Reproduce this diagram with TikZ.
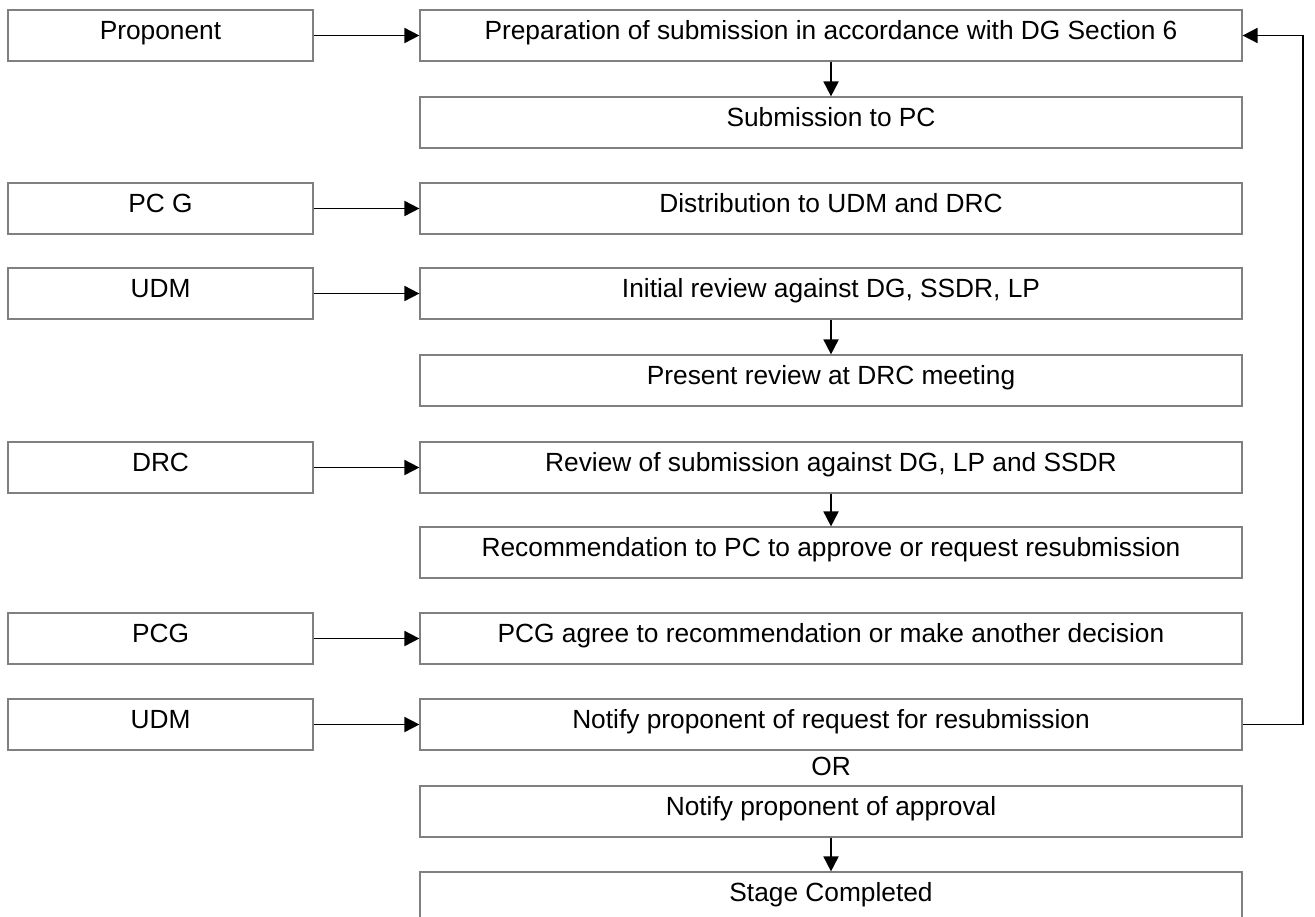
\documentclass[tikz,border=0pt]{standalone}
\usepackage{fontspec}
\setmainfont{Liberation Sans}
\usetikzlibrary{arrows.meta}
\tikzset{
  stepbox/.style={draw=gray, line width=0.6pt, minimum height=25.5pt,
    text height=9.5pt, text depth=5.5pt, inner sep=0pt},
  actor/.style={stepbox, minimum width=152.5pt},
  task/.style={stepbox, minimum width=411pt},
  flow/.style={line width=0.9pt, -{Triangle[length=7.5pt,width=7.5pt]}}
}
\begin{document}
\begin{tikzpicture}[x=0.5pt,y=-0.5pt,font=\fontsize{13.15}{15}\selectfont]
\useasboundingbox (0,0) rectangle (1315,916);
% process steps
\foreach \n/\y/\lab in {
  t1/35.5/{Preparation of submission in accordance with DG Section 6},
  t2/122.5/{Submission to PC},
  t3/208.5/{Distribution to UDM and DRC},
  t4/293.5/{Initial review against DG, SSDR, LP},
  t5/380.5/{Present review at DRC meeting},
  t6/467.5/{Review of submission against DG, LP and SSDR},
  t7/552.5/{Recommendation to PC to approve or request resubmission},
  t8/638.5/{PCG agree to recommendation or make another decision},
  t9/724.5/{Notify proponent of request for resubmission},
  t10/811.5/{Notify proponent of approval},
  t11/897.5/{Stage Completed}}
  \node[task] (\n) at (831,\y) {\lab};

% who does it
\foreach \n/\y/\lab/\t in {a1/35.5/Proponent/t1,a2/208.5/PC G/t3,a3/293.5/UDM/t4,
  a4/467.5/DRC/t6,a5/638.5/PCG/t8,a6/724.5/UDM/t9}
{
  \node[actor] (\n) at (160.5,\y) {\lab};
  \draw[flow] (\n.east) -- (\t.west);
}

\node (or) at (831,766) {OR};

\draw[flow] (t1.south) -- (t2.north);
\draw[flow] (t4.south) -- (t5.north);
\draw[flow] (t6.south) -- (t7.north);
\draw[flow] (t10.south) -- (t11.north);
\draw[flow] (t9.east) -- ++(60,0) |- (t1.east);
\end{tikzpicture}
\end{document}
